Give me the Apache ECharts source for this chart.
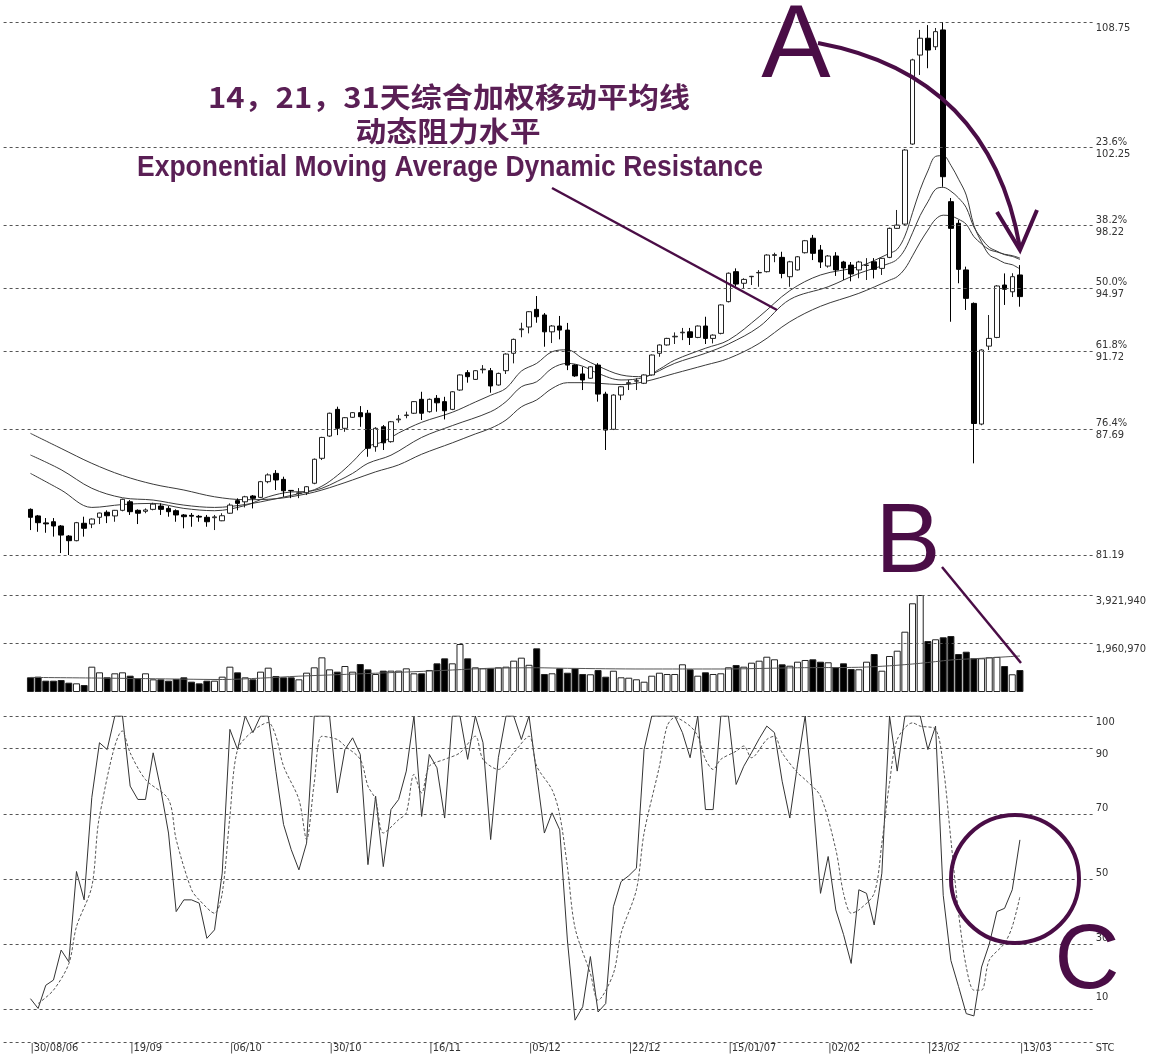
<!DOCTYPE html>
<html><head><meta charset="utf-8">
<script src="https://cdn.jsdelivr.net/npm/echarts@6/dist/echarts.min.js"></script>
<style>html,body{margin:0;padding:0;background:#fff}#c{width:1151px;height:1059px}</style>
</head><body><div id="c"></div>
<script>
// ---------------- data ----------------
const tickDates = ['30/08/06','19/09','06/10','30/10','16/11','05/12','22/12','15/01/07','02/02','23/02','13/03'];
const tickIndex = [0,13,26,39,52,65,78,91,104,117,129];

// [open, close, low, high]
const ohlc = [
[83.55,83.14,82.48,83.60],[83.21,82.86,82.39,83.26],[82.85,82.80,82.34,83.10],[82.91,82.69,82.14,83.10],[82.69,82.22,81.29,82.74],
[82.17,81.93,81.19,82.22],[81.93,82.86,81.90,82.90],[82.83,82.57,82.14,83.17],[82.79,83.05,82.58,83.08],[83.14,83.36,82.79,83.38],
[83.40,83.22,82.84,83.50],[83.21,83.50,82.91,83.52],[83.50,84.07,83.45,84.10],[83.94,83.43,83.26,84.03],[83.50,83.35,82.79,83.55],
[83.45,83.52,83.35,83.60],[83.55,83.82,83.50,83.89],[83.72,83.55,83.26,83.86],[83.60,83.43,83.17,83.72],[83.48,83.26,82.91,83.55],
[83.26,83.17,82.57,83.31],[83.24,83.20,82.65,83.36],[83.19,83.15,82.91,83.26],[83.14,82.91,82.65,83.26],[83.12,83.16,82.48,83.26],
[82.96,83.22,82.94,83.35],[83.35,83.77,83.32,83.86],[84.00,83.86,83.50,84.12],[83.94,84.20,83.65,84.25],[84.24,84.12,83.60,84.29],
[84.17,84.98,84.13,85.02],[84.98,85.33,84.90,85.41],[85.41,85.07,84.55,85.58],[85.10,84.51,84.20,85.24],[84.53,84.51,84.13,84.55],
[84.38,84.40,84.13,84.65],[84.41,84.72,84.29,84.75],[84.90,86.14,84.85,86.18],[86.19,87.27,86.10,87.30],[87.34,88.52,87.30,88.55],
[88.72,87.74,87.39,88.86],[87.74,88.29,87.56,88.32],[88.31,88.55,88.28,88.58],[88.55,88.34,87.82,88.89],[88.52,86.71,86.27,88.69],
[86.79,87.74,86.53,87.80],[87.82,86.99,86.62,87.91],[87.05,88.08,87.00,88.12],[88.18,88.22,88.03,88.43],[88.40,88.43,88.26,88.60],
[88.52,89.12,88.48,89.15],[89.24,88.52,88.17,89.63],[88.60,89.24,88.55,89.28],[89.29,89.06,88.60,89.46],[89.12,88.65,88.20,89.37],
[88.72,89.63,88.68,89.66],[89.72,90.50,89.68,90.53],[90.62,90.41,90.10,90.75],[90.27,90.72,90.24,90.75],[90.77,90.80,90.58,91.01],
[90.72,89.93,89.58,90.86],[89.98,90.58,89.95,90.62],[90.72,91.58,90.55,91.62],[91.62,92.34,91.10,92.38],[92.84,92.88,92.45,93.20],
[92.98,93.77,92.65,93.80],[93.89,93.51,93.20,94.58],[93.60,92.73,91.96,93.70],[92.73,93.03,92.15,93.08],[93.03,92.82,92.34,93.55],
[92.82,91.01,90.75,93.19],[91.01,90.45,90.40,91.05],[90.55,90.24,89.72,90.92],[90.33,90.92,90.30,90.95],[91.01,89.51,89.12,91.11],
[89.51,87.65,86.62,89.63],[87.69,89.46,87.65,89.50],[89.46,89.89,89.20,89.92],[90.05,90.10,89.72,90.24],[90.18,90.20,89.72,90.33],
[90.07,90.50,90.03,90.53],[90.50,91.53,90.46,91.56],[91.62,92.05,91.44,92.08],[92.05,92.39,92.02,92.42],[92.47,92.50,92.10,92.70],
[92.68,92.71,92.30,92.93],[92.73,92.44,92.05,92.93],[92.44,93.03,92.40,93.06],[93.03,92.39,92.10,93.51],[92.39,92.56,92.13,92.60],
[92.65,94.12,92.60,94.15],[94.29,95.76,94.25,95.80],[95.84,95.20,95.06,96.01],[95.24,95.44,94.98,95.50],[95.58,95.60,95.15,95.62],
[95.78,95.80,95.06,95.92],[95.84,96.70,95.80,96.74],[96.68,96.72,96.33,96.82],[96.58,95.75,95.50,96.87],[95.58,96.35,95.06,96.40],
[95.93,96.61,95.90,96.65],[96.82,97.44,96.78,97.48],[97.57,96.79,96.44,97.74],[96.96,96.34,96.03,97.22],[96.13,96.65,96.05,96.70],
[96.65,95.93,95.62,96.85],[96.34,96.03,95.41,96.40],[96.18,95.72,95.34,96.34],[95.93,96.34,95.50,96.40],[96.16,96.18,95.41,96.54],
[96.35,95.96,95.49,96.54],[96.01,96.53,95.67,96.56],[96.58,98.08,96.54,98.12],[98.08,98.25,98.05,99.03],[98.30,102.13,98.25,102.18],
[102.44,106.79,102.40,106.85],[107.04,107.91,106.01,108.34],[107.91,107.30,106.36,108.59],[107.47,108.25,107.30,108.44],[108.34,100.75,100.23,108.75],
[99.46,98.08,93.25,99.65],[98.34,95.96,95.24,98.51],[95.93,94.46,93.86,96.10],[94.20,87.99,85.93,94.25],[87.96,91.79,87.90,91.83],
[91.99,92.39,91.79,93.60],[92.44,95.10,92.40,95.14],[95.15,94.93,94.12,95.75],[94.80,95.58,94.53,95.76],[95.67,94.55,94.03,96.18]
];

const volume = [
594000,620000,458000,458000,485000,377000,350000,283000,1024000,795000,
594000,755000,795000,660000,553000,755000,512000,512000,458000,526000,
594000,418000,350000,458000,458000,620000,1024000,795000,593000,512000,
822000,984000,647000,593000,593000,512000,782000,997000,1401000,916000,
822000,1051000,822000,1132000,916000,728000,863000,863000,863000,957000,
755000,755000,890000,1159000,1361000,1159000,1941000,1361000,997000,957000,
957000,997000,1024000,1267000,1388000,1100000,1766000,728000,756000,958000,
780000,958000,728000,716000,889000,619000,861000,594000,578000,513000,
416000,659000,780000,728000,728000,1120000,918000,659000,797000,728000,
756000,999000,1092000,1023000,1185000,1266000,1427000,1322000,1120000,1063000,
1225000,1294000,1322000,1225000,1201000,999000,1160000,930000,918000,1225000,
1536000,861000,1456000,1670000,2438000,3586000,3921940,2062000,2131000,2212000,
2264000,1536000,1629000,1363000,1363000,1403000,1420000,1051000,716000,889000
];

// [bar index, value]
const ema14 = [[0,85.41],[4,84.55],[8,83.65],[12,83.80],[16,83.86],[20,83.60],[24,83.48],[28,83.75],[31,84.20],[34,84.45],[36,84.47],[38,84.75],[40,85.30],[42,86.01],[44,86.79],[46,87.05],[48,87.50],[51,88.05],[55,88.57],[58,89.10],[60,89.45],[62,89.81],[64,90.70],[66,91.10],[68,91.70],[70,91.80],[72,91.35],[74,90.96],[77,90.50],[80,90.41],[82,90.80],[84,91.27],[88,91.88],[91,92.30],[95,93.51],[99,94.86],[103,95.67],[108,96.10],[112,96.79],[113,97.00],[114,97.68],[115,98.89],[116,100.09],[117,101.05],[118,101.80],[119,101.84],[120,101.34],[121,100.62],[122,99.80],[123,98.23],[124,97.37],[125,96.71],[126,96.50],[127,96.29],[128,96.20],[129,95.98]];
const ema21 = [[0,86.36],[4,85.60],[8,84.64],[12,84.15],[16,84.03],[20,83.77],[24,83.65],[28,83.80],[32,84.10],[36,84.45],[38,84.64],[40,85.00],[42,85.41],[44,85.93],[47,86.35],[51,87.27],[55,87.88],[60,88.60],[62,89.12],[64,89.89],[66,90.15],[68,90.84],[70,91.10],[72,90.95],[74,90.58],[77,90.24],[80,90.38],[84,91.10],[88,91.62],[91,92.10],[95,92.99],[99,94.40],[104,95.06],[108,95.75],[112,96.27],[113,96.48],[114,96.99],[115,97.85],[116,98.75],[117,99.45],[118,100.10],[119,100.20],[120,100.00],[121,99.65],[122,99.15],[123,98.15],[124,97.55],[125,97.10],[126,96.90],[127,96.72],[128,96.63],[129,96.47]];
const ema31 = [[0,87.48],[4,86.70],[8,85.93],[12,85.30],[16,84.85],[20,84.55],[24,84.20],[28,84.05],[32,84.10],[36,84.35],[38,84.55],[40,84.80],[42,85.07],[45,85.49],[48,85.85],[51,86.40],[55,86.99],[58,87.45],[60,87.74],[62,88.17],[64,88.85],[66,89.21],[68,89.80],[70,90.10],[72,90.10],[74,90.07],[77,90.00],[80,90.15],[84,90.58],[88,91.01],[91,91.35],[95,92.13],[99,93.25],[103,94.05],[108,94.72],[112,95.40],[113,95.58],[114,95.99],[115,96.66],[116,97.37],[117,97.99],[118,98.55],[119,98.76],[120,98.72],[121,98.55],[122,98.29],[123,97.65],[124,97.28],[125,96.98],[126,96.86],[127,96.74],[128,96.67],[129,96.54]];

const volMA = [[0,590000],[10,560000],[20,520000],[25,505000],[30,560000],[35,640000],[40,700000],[45,760000],[50,820000],[55,890000],[60,960000],[66,980000],[70,958000],[80,930000],[90,930000],[100,980000],[108,1000000],[112,1060000],[116,1160000],[120,1294000],[124,1363000],[129,1456000]];

const stochK = [
13.3,10.3,17.4,19.0,28.2,24.6,52.3,43.6,75,91.8,
89.7,100,100,78.5,74.4,74.4,88.7,77.4,64.1,40.0,
43.6,43.6,42.6,31.8,34.4,51.8,95.9,89.7,100,94.9,
100,100,83,66.7,59,52.8,61.0,100,100,100,
76.4,89.7,93.3,88.2,54.4,75.4,53.8,71.3,74.4,83.1,
100,69.2,88.2,84.1,68.7,100,100,86.7,100,91.8,
62.1,87.2,100,100,92.8,100,82,64.1,70.3,65.1,
31.3,6.7,10.8,26.2,9.2,11.8,41.5,49.2,51,53.3,
89.7,100,100,100,100,94.9,87.2,100,71.3,71.3,
100,100,79.0,84.6,88.7,93,96.9,94.9,80,68.7,
85,100,75.4,45.6,56.9,40.5,33,24.1,46.7,45.6,
35.9,51.8,100,83.1,100,100,100,89.7,96.9,45,
25,17,8.7,8,23,30,40,41,46.7,62
];
const stochD = [[1,11.8],[3,15.9],[5,24],[6,35.4],[8,47.7],[9,69.2],[12,95.4],[13,88.7],[15,80.5],[18,74.4],[19,62.1],[21,46.7],[22,43.6],[24,39.5],[25,45.6],[26,69.2],[27,89.7],[29,95.4],[31,98],[32,93.8],[33,84.6],[35,74.4],[36,62.1],[37,79.5],[38,93.8],[40,92.8],[41,90.8],[43,86.7],[44,78.5],[45,74.4],[46,64.1],[48,68.2],[49,70.3],[50,82.1],[51,76.4],[52,84.6],[54,86.7],[56,88.7],[58,93.8],[59,86.7],[61,83.6],[63,88.7],[65,93.8],[66,84.6],[68,77.4],[69,69.7],[70,53.8],[71,35],[73,21],[74,12.8],[76,21],[77,33.3],[79,46.7],[80,64.1],[82,84.6],[83,96.9],[84,99.5],[86,96.9],[87,93.8],[88,86.7],[89,83.6],[90,86.7],[92,89.2],[93,90.8],[94,87.2],[96,92.8],[97,93.8],[98,88.7],[100,82.6],[101,80.5],[103,75.4],[105,59],[106,45.6],[107,39.5],[108,40.5],[110,45.6],[111,61],[112,79.5],[113,92.8],[115,97.9],[116,96.9],[118,95.9],[119,84.6],[120,62],[121,39.5],[122,23.1],[123,15.9],[124,15.9],[125,25.1],[127,30.3],[128,35.4],[129,44.6]];

const priceLevels = [108.75,102.25,98.22,94.97,91.72,87.69,81.19];
const fibPct = ['','23.6%','38.2%','50.0%','61.8%','76.4%',''];
const volLevels = [3921940,1960970];
const stochLevels = [100,90,70,50,30,10,0];
const stochLevelText = ['100','90','70','50','30','10','STC'];

// ---------------- build ----------------
const PADL = 3, PADR = 9;
const N = ohlc.length;
const cats = [];
for (let k = 0; k < PADL + N + PADR; k++) cats.push('c' + k);
const labelAt = {};
tickIndex.forEach((ix, j) => { labelAt[ix + PADL] = tickDates[j]; });
const sh = pts => pts.map(p => [p[0] + PADL, p[1]]);

const AX_FONT = '"Liberation Sans Narrow","DejaVu Sans Condensed","Liberation Sans",sans-serif';
const PURPLE = '#4a0d46';
const TXT_PURPLE = '#5a1f55';
const gridLine = {color: '#555', width: 1, type: [3, 3]};
const lblBase = {position: 'end', distance: 3, color: '#333', fontSize: 11, fontFamily: AX_FONT, lineHeight: 12};

// vertical nudges of the right-hand labels, as blank lines before (+) or after (-)
const nudge = (txt, n) => n > 0 ? '\n'.repeat(n) + txt : n < 0 ? txt + '\n'.repeat(-n) : txt;

const priceMark = priceLevels.map((v, j) => ({
  yAxis: v,
  label: Object.assign({}, lblBase, {
    formatter: j === 0 ? nudge(v.toFixed(2), 1) : (fibPct[j] ? fibPct[j] + '\n' : '') + v.toFixed(2)
  })
}));
const volMark = volLevels.map(v => ({
  yAxis: v,
  label: Object.assign({}, lblBase, {formatter: nudge(v.toLocaleString('en-US'), 1)})
}));
const stochNudge = [1, 1, -1, -1, -1, -2, 1];
const stochMark = stochLevels.map((v, j) => ({
  yAxis: v,
  label: Object.assign({}, lblBase, {formatter: nudge(stochLevelText[j], stochNudge[j])})
}));

const candleData = ohlc.map((d, i) => [i + PADL, d[0], d[1], d[2], d[3]]);
const volData = volume.map((v, i) => ({
  value: [i + PADL, v],
  itemStyle: {color: ohlc[i][1] >= ohlc[i][0] ? '#ffffff' : '#000000'}
}));
const kData = stochK.map((v, i) => [i + PADL, v]);

const emaLine = (name, pts) => ({
  name, type: 'line', xAxisIndex: 0, yAxisIndex: 0, data: sh(pts),
  smooth: 0.35, showSymbol: false, symbol: 'none', silent: true,
  lineStyle: {color: '#3a3a3a', width: 1}, z: 3
});

const GL = 3.6, GW = 1089.2;
const xAxisBase = gi => ({
  type: 'category', gridIndex: gi, data: cats, boundaryGap: true,
  axisLine: {show: false}, axisTick: {show: false}, splitLine: {show: false},
  axisLabel: {show: false}
});
const xa2 = xAxisBase(2);
xa2.axisLabel = {
  show: true, interval: (idx) => labelAt[idx] !== undefined,
  formatter: (val, idx) => '|' + (labelAt[idx] || ''),
  align: 'left', margin: 1, fontSize: 11, color: '#333', fontFamily: AX_FONT
};

// fit annotation text to the widths seen in the picture
const mctx = document.createElement('canvas').getContext('2d');
const fitScale = (font, text, target) => { mctx.font = font; return target / mctx.measureText(text).width; };
const T1 = '14，21，31天综合加权移动平均线', T2 = '动态阻力水平', T3 = 'Exponential Moving Average Dynamic Resistance';
const F_CJK = 'bold 28px "Noto Sans CJK SC"';
const F_EN = 'bold 29px "Liberation Sans",sans-serif';
const s1 = fitScale(F_CJK, T1, 482), s2 = fitScale(F_CJK, T2, 185), s3 = fitScale(F_EN, T3, 626);

const option = {
  animation: false,
  backgroundColor: '#ffffff',
  grid: [
    {left: GL, width: GW, top: 22, height: 533},
    {left: GL, width: GW, top: 595, height: 97},
    {left: GL, width: GW, top: 716, height: 326}
  ],
  xAxis: [xAxisBase(0), xAxisBase(1), xa2],
  yAxis: [
    {gridIndex: 0, type: 'value', min: 81.19, max: 108.75, show: false, splitLine: {show: false}},
    {gridIndex: 1, type: 'value', min: 0, max: 3921940, show: false, splitLine: {show: false}},
    {gridIndex: 2, type: 'value', min: 0, max: 100, show: false, splitLine: {show: false}}
  ],
  series: [
    {
      type: 'candlestick', xAxisIndex: 0, yAxisIndex: 0, data: candleData,
      encode: {x: 0, y: [1, 2, 3, 4]},
      barWidth: 5,
      itemStyle: {color: '#ffffff', color0: '#000000', borderColor: '#222222', borderColor0: '#000000', borderWidth: 1},
      markLine: {silent: true, symbol: ['none', 'none'], lineStyle: gridLine, data: priceMark, animation: false},
      z: 4
    },
    emaLine('EMA14', ema14), emaLine('EMA21', ema21), emaLine('EMA31', ema31),
    {
      type: 'bar', xAxisIndex: 1, yAxisIndex: 1, data: volData, barWidth: 7,
      itemStyle: {borderColor: '#222', borderWidth: 1},
      markLine: {silent: true, symbol: ['none', 'none'], lineStyle: gridLine, data: volMark, animation: false}
    },
    {
      type: 'line', xAxisIndex: 1, yAxisIndex: 1, data: sh(volMA), smooth: 0.3,
      symbol: 'none', lineStyle: {color: '#555', width: 1}, z: 5
    },
    {
      type: 'line', xAxisIndex: 2, yAxisIndex: 2, data: kData, symbol: 'none',
      lineStyle: {color: '#333', width: 1},
      markLine: {silent: true, symbol: ['none', 'none'], lineStyle: gridLine, data: stochMark, animation: false}
    },
    {
      type: 'line', xAxisIndex: 2, yAxisIndex: 2, data: sh(stochD), smooth: 0.3, symbol: 'none',
      lineStyle: {color: '#555', width: 1, type: [3, 2]}
    }
  ],
  graphic: [
    {type: 'text', x: 449, y: 97, scaleX: s1, z: 100, style: {text: T1, fill: TXT_PURPLE,
      font: F_CJK, align: 'center', verticalAlign: 'middle'}},
    {type: 'text', x: 448, y: 131, scaleX: s2, z: 100, style: {text: T2, fill: TXT_PURPLE,
      font: F_CJK, align: 'center', verticalAlign: 'middle'}},
    {type: 'text', x: 450, y: 168, scaleX: s3, z: 100, style: {text: T3, fill: TXT_PURPLE,
      font: F_EN, align: 'center', verticalAlign: 'middle'}},
    {type: 'line', z: 100, shape: {x1: 552, y1: 188, x2: 777, y2: 310}, style: {stroke: PURPLE, lineWidth: 2.5}},
    {type: 'text', x: 796, y: 48, z: 100, style: {text: 'A', fill: PURPLE, font: '104px "Liberation Sans",sans-serif', align: 'center', verticalAlign: 'middle'}},
    {type: 'bezierCurve', z: 100, shape: {x1: 818, y1: 43, cpx1: 990, cpy1: 75, x2: 1020, y2: 248},
      style: {stroke: PURPLE, lineWidth: 4, fill: 'none'}},
    {type: 'polyline', z: 100, shape: {points: [[997, 212], [1020, 250], [1037, 210]]},
      style: {stroke: PURPLE, lineWidth: 4, fill: 'none'}},
    {type: 'text', x: 908, y: 545, z: 100, style: {text: 'B', fill: PURPLE, font: '98px "Liberation Sans",sans-serif', align: 'center', verticalAlign: 'middle'}},
    {type: 'line', z: 100, shape: {x1: 942, y1: 567, x2: 1021, y2: 663}, style: {stroke: PURPLE, lineWidth: 2.5}},
    {type: 'circle', z: 100, shape: {cx: 1015, cy: 879, r: 64}, style: {stroke: PURPLE, lineWidth: 4, fill: 'none'}},
    {type: 'text', x: 1087, y: 963, z: 100, style: {text: 'C', fill: PURPLE, font: '90px "Liberation Sans",sans-serif', align: 'center', verticalAlign: 'middle'}}
  ]
};

const chart = echarts.init(document.getElementById('c'), null, {renderer: 'canvas'});
chart.setOption(option);
</script>
</body></html>
